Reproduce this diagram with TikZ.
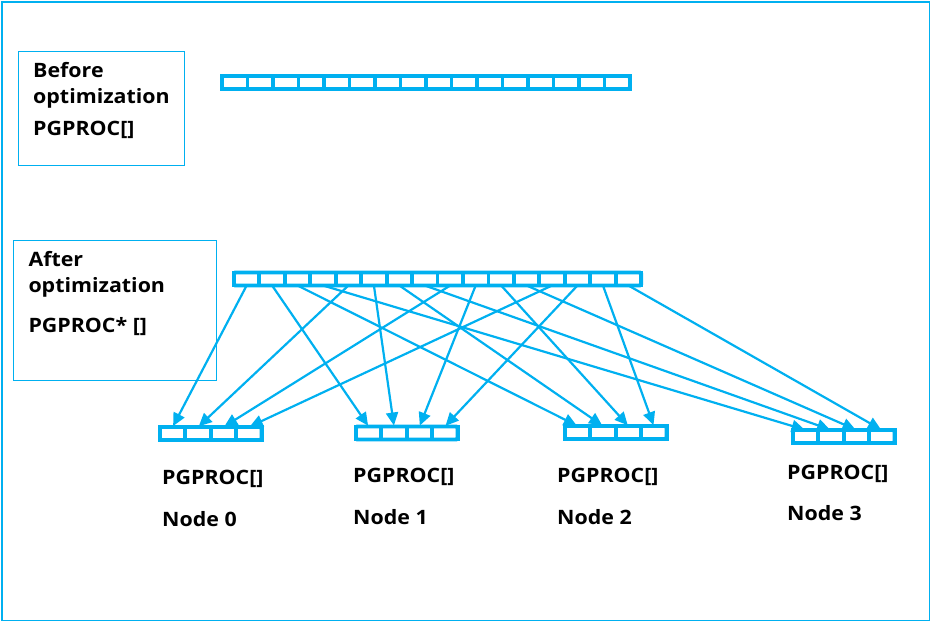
\documentclass[tikz,border=0pt]{standalone}
\usepackage{fontspec}
\setmainfont{Open Sans}[FakeStretch=1.08]
\usetikzlibrary{arrows.meta}
\definecolor{cy}{HTML}{00B0F0}
\begin{document}
\begin{tikzpicture}[x=1pt,y=-1pt,
  cell/.style={draw=cy, line width=3.8pt, fill=white, minimum width=25.5pt, minimum height=13pt, inner sep=0pt, outer sep=0pt},
  barframe/.style={draw=cy, line width=3.8pt, rounded corners=1.5pt},
  link/.style={draw=cy, line width=2.2pt, shorten >=1pt, -{Triangle[length=13pt,width=12pt]}},
  boxframe/.style={draw=cy, line width=1.3pt, inner sep=0pt, anchor=north west},
  lbl/.style={anchor=base west, inner sep=0pt, font=\fontsize{19.8}{22}\selectfont\bfseries}]
\useasboundingbox (0,0) rectangle (930,621);
\node[boxframe, line width=1.8pt, minimum width=928pt, minimum height=619pt] (outer) at (1,1) {};
% text boxes
\node[boxframe, minimum width=166pt, minimum height=114pt] (beforebox) at (18,51) {};
\node[boxframe, minimum width=203pt, minimum height=140pt] (afterbox) at (13,240) {};
\node[lbl] (t1) at (33,77.7) {Before};
\node[lbl] (t2) at (33,103.3) {optimization};
\node[lbl] (t3) at (33,135) {PGPROC[]};
\node[lbl] (t4) at (28.3,266.7) {After};
\node[lbl] (t5) at (28.3,292.3) {optimization};
\node[lbl] (t6) at (28.3,332.3) {PGPROC* []};
% before bar
\foreach \i in {0,...,15} \node[cell, anchor=west] (b\i) at ({221.9+25.5*\i},82.5) {};
\draw[barframe] (b0.north west) rectangle (b15.south east);
% after bar
\foreach \i in {0,...,15} \node[cell, anchor=west] (a\i) at ({233.9+25.45*\i},279) {};
\draw[barframe] (a0.north west) rectangle (a15.south east);
% node arrays
\foreach \k/\x/\y in {0/159.9/433.5, 1/355.9/433, 2/564.9/432.5, 3/792.9/436.5}{
  \foreach \j in {0,...,3} \node[cell, anchor=west] (n\k-\j) at ({\x+25.4*\j},\y) {};
  \draw[barframe] (n\k-0.north west) rectangle (n\k-3.south east);
}
% connectors
\foreach \i in {0,...,15}{
  \pgfmathtruncatemacro\nd{mod(\i,4)}
  \pgfmathtruncatemacro\cc{div(\i,4)}
  \draw[link] (a\i.south) -- (n\nd-\cc.north);
}
% labels
\node[lbl] (p0) at (162,484) {PGPROC[]};
\node[lbl] (q0) at (162,526.5) {Node 0};
\node[lbl] (p1) at (353,482) {PGPROC[]};
\node[lbl] (q1) at (353,524) {Node 1};
\node[lbl] (p2) at (557,482) {PGPROC[]};
\node[lbl] (q2) at (557,524) {Node 2};
\node[lbl] (p3) at (787,479) {PGPROC[]};
\node[lbl] (q3) at (787,520) {Node 3};
\end{tikzpicture}
\end{document}
